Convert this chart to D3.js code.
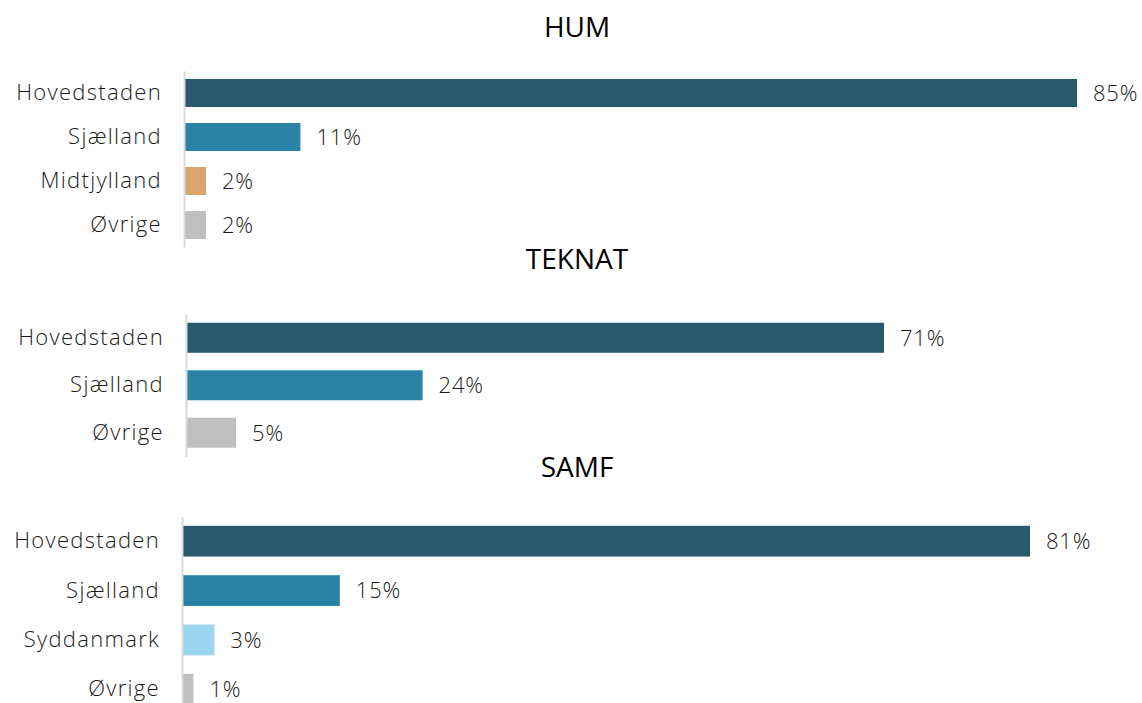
<!DOCTYPE html>
<html>
<head>
<meta charset="utf-8">
<script src="https://cdn.jsdelivr.net/npm/d3@7"></script>
<style>
  html, body { margin: 0; padding: 0; background: #ffffff; }
  svg { display: block; }
</style>
</head>
<body>
<svg id="chart" width="1142" height="703"></svg>
<script>
// ---- Data ----
const panelTitles = ["HUM", "TEKNAT", "SAMF"];

const humCategories = ["Hovedstaden", "Sjælland", "Midtjylland", "Øvrige"];
const humValues = [85, 11, 2, 2];

const teknatCategories = ["Hovedstaden", "Sjælland", "Øvrige"];
const teknatValues = [71, 24, 5];

const samfCategories = ["Hovedstaden", "Sjælland", "Syddanmark", "Øvrige"];
const samfValues = [81, 15, 3, 1];

const regionColors = {
  "Hovedstaden": "#28596D",
  "Sjælland": "#2A83A5",
  "Midtjylland": "#D9A46E",
  "Syddanmark": "#9AD6F0",
  "Øvrige": "#BFBFBF"
};

// ---- Layout (positions only) ----
const layouts = [
  { cats: humCategories, vals: humValues, axisX: 184, x0: 185, x1: 1077, y0: 71, y1: 247, pi: 0.364, titleY: 37 },
  { cats: teknatCategories, vals: teknatValues, axisX: 186, x0: 187, x1: 884, y0: 314, y1: 456.5, pi: 0.368, titleY: 269 },
  { cats: samfCategories, vals: samfValues, axisX: 182, x0: 183, x1: 1030, y0: 516.5, y1: 714, pi: 0.377, titleY: 477 }
];

const svg = d3.select("#chart");
const labelFont = "'Open Sans', 'Noto Sans', sans-serif";

layouts.forEach((L, i) => {
  const g = svg.append("g");
  const data = L.cats.map((c, j) => ({ cat: c, val: L.vals[j] }));

  const x = d3.scaleLinear().domain([0, d3.max(L.vals)]).range([L.x0, L.x1]);
  const y = d3.scaleBand().domain(L.cats).range([L.y0, L.y1])
    .paddingInner(L.pi).paddingOuter(L.pi / 2);

  // Title
  g.append("text")
    .attr("x", 577).attr("y", L.titleY)
    .attr("text-anchor", "middle")
    .attr("font-family", labelFont)
    .attr("font-size", 28)
    .attr("fill", "#000000")
    .text(panelTitles[i]);

  // Bars
  g.selectAll("rect.bar").data(data).join("rect")
    .attr("class", "bar")
    .attr("x", x(0))
    .attr("y", d => y(d.cat))
    .attr("width", d => x(d.val) - x(0))
    .attr("height", y.bandwidth())
    .attr("fill", d => regionColors[d.cat]);

  // Category axis
  const axis = d3.axisLeft(y).tickSize(0).tickPadding(22);
  const ag = g.append("g")
    .attr("transform", `translate(${L.axisX},0)`)
    .call(axis);
  ag.select(".domain").attr("stroke", "#D9D9D9").attr("stroke-width", 2);
  ag.selectAll("text")
    .attr("font-family", labelFont)
    .attr("font-weight", 300)
    .attr("font-size", 22)
    .attr("letter-spacing", "1.3px")
    .attr("fill", "#1a1a1a");

  // Value labels
  g.selectAll("text.val").data(data).join("text")
    .attr("class", "val")
    .attr("x", d => x(d.val) + 16)
    .attr("y", d => y(d.cat) + y.bandwidth() / 2)
    .attr("dy", "0.36em")
    .attr("font-family", labelFont)
    .attr("font-weight", 300)
    .attr("font-size", 22)
    .attr("letter-spacing", "0.8px")
    .attr("fill", "#1a1a1a")
    .text(d => d.val + "%");
});
</script>
</body>
</html>
